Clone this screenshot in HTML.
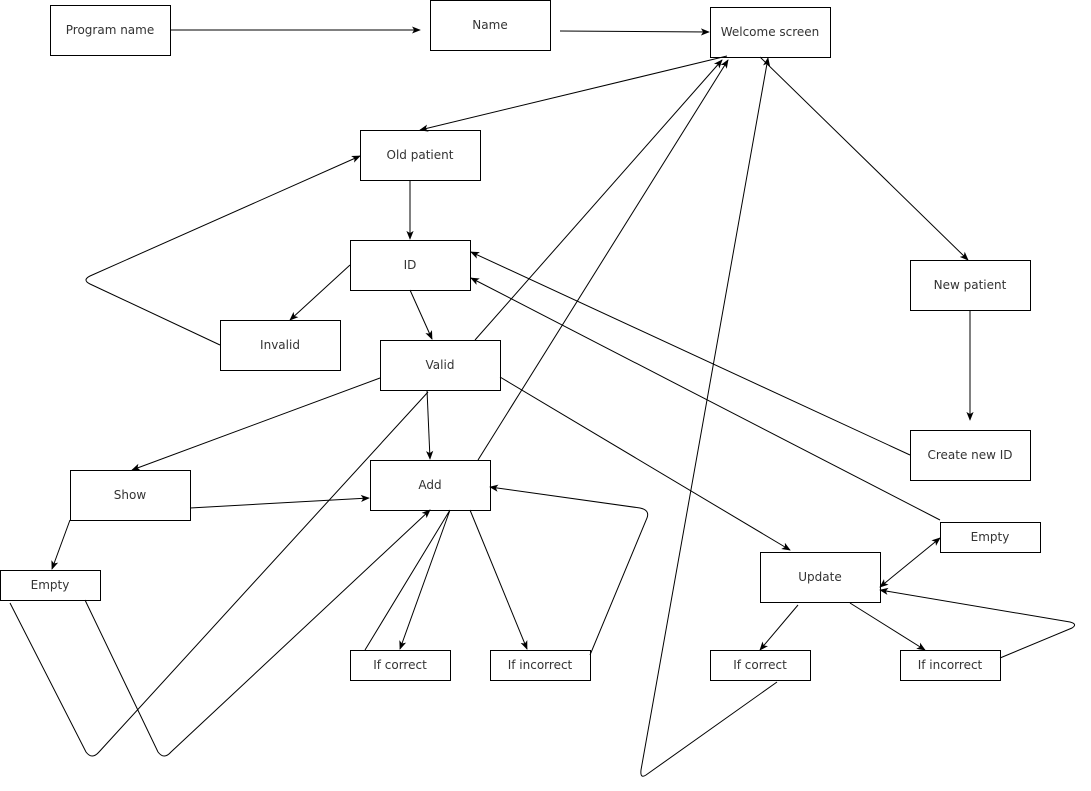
<!DOCTYPE html>
<html><head><meta charset="utf-8"><style>
html,body{margin:0;padding:0;background:#fff;}
svg{display:block;}
text{font-family:"DejaVu Sans",sans-serif;font-size:12px;fill:#333;}
</style></head><body>
<svg width="1091" height="791" viewBox="0 0 1091 791" xmlns="http://www.w3.org/2000/svg">
<defs>
<marker id="a" viewBox="0 0 10 10" refX="9" refY="5" markerWidth="9" markerHeight="9" orient="auto-start-reverse" markerUnits="userSpaceOnUse">
<path d="M0,1 L10,5 L0,9 L2.5,5 z" fill="#000"/>
</marker>
</defs>
<g fill="#fff" stroke="#000" stroke-width="1">
<rect x="50.5" y="5.5" width="120" height="50"/>
<rect x="430.5" y="0.5" width="120" height="50"/>
<rect x="710.5" y="7.5" width="120" height="50"/>
<rect x="360.5" y="130.5" width="120" height="50"/>
<rect x="350.5" y="240.5" width="120" height="50"/>
<rect x="220.5" y="320.5" width="120" height="50"/>
<rect x="380.5" y="340.5" width="120" height="50"/>
<rect x="910.5" y="260.5" width="120" height="50"/>
<rect x="910.5" y="430.5" width="120" height="50"/>
<rect x="70.5" y="470.5" width="120" height="50"/>
<rect x="370.5" y="460.5" width="120" height="50"/>
<rect x="0.5" y="570.5" width="100" height="30"/>
<rect x="350.5" y="650.5" width="100" height="30"/>
<rect x="490.5" y="650.5" width="100" height="30"/>
<rect x="760.5" y="552.5" width="120" height="50"/>
<rect x="940.5" y="522.5" width="100" height="30"/>
<rect x="710.5" y="650.5" width="100" height="30"/>
<rect x="900.5" y="650.5" width="100" height="30"/>
</g>
<g fill="none" stroke="#000" stroke-width="1">
<path d="M170,30 L420,30" marker-end="url(#a)"/>
<path d="M560,31 L709,32" marker-end="url(#a)"/>
<path d="M727,56 L420,130" marker-end="url(#a)"/>
<path d="M760,57 L968,260" marker-end="url(#a)"/>
<path d="M410,180 L410,239" marker-end="url(#a)"/>
<path d="M350,265 L290,320" marker-end="url(#a)"/>
<path d="M220,345 L90,284 Q82,280 90,276 L360,156" marker-end="url(#a)"/>
<path d="M410,290 L432,339" marker-end="url(#a)"/>
<path d="M475,340 L722,60" marker-end="url(#a)"/>
<path d="M380,378 L132,470" marker-end="url(#a)"/>
<path d="M427,390 L430,459" marker-end="url(#a)"/>
<path d="M500,377 L790,550" marker-end="url(#a)"/>
<path d="M190,508 L369,498" marker-end="url(#a)"/>
<path d="M70,520 L52,569" marker-end="url(#a)"/>
<path d="M10,603 L86,752 Q92,760 99,752 L428,392"/>
<path d="M85,600 L158,752 Q164,760 171,752 L430,510" marker-end="url(#a)"/>
<path d="M365,650 L450,510 L400,649" marker-end="url(#a)"/>
<path d="M470,510 L527,649" marker-end="url(#a)"/>
<path d="M590,655 L647,518 Q650,510 640,508 L490,487" marker-end="url(#a)"/>
<path d="M478,460 L728,60" marker-end="url(#a)"/>
<path d="M970,310 L970,420" marker-end="url(#a)"/>
<path d="M910,455 L471,252" marker-end="url(#a)"/>
<path d="M940,520 L471,278" marker-end="url(#a)"/>
<path d="M880,587 L940,538" marker-start="url(#a)" marker-end="url(#a)"/>
<path d="M798,605 L760,650" marker-end="url(#a)"/>
<path d="M850,603 L925,650" marker-end="url(#a)"/>
<path d="M1000,658 L1072,628 Q1078,624 1070,622 L880,590" marker-end="url(#a)"/>
<path d="M777,682 L646,775 Q640,779 641,770 L768,58" marker-end="url(#a)"/>
</g>
<g text-anchor="middle">
<text x="110" y="34">Program name</text>
<text x="490" y="29">Name</text>
<text x="770" y="36">Welcome screen</text>
<text x="420" y="159">Old patient</text>
<text x="410" y="269">ID</text>
<text x="280" y="349">Invalid</text>
<text x="440" y="369">Valid</text>
<text x="970" y="289">New patient</text>
<text x="970" y="459">Create new ID</text>
<text x="130" y="499">Show</text>
<text x="430" y="489">Add</text>
<text x="50" y="589">Empty</text>
<text x="400" y="669">If correct</text>
<text x="540" y="669">If incorrect</text>
<text x="820" y="581">Update</text>
<text x="990" y="541">Empty</text>
<text x="760" y="669">If correct</text>
<text x="950" y="669">If incorrect</text>
</g>
</svg>
</body></html>
